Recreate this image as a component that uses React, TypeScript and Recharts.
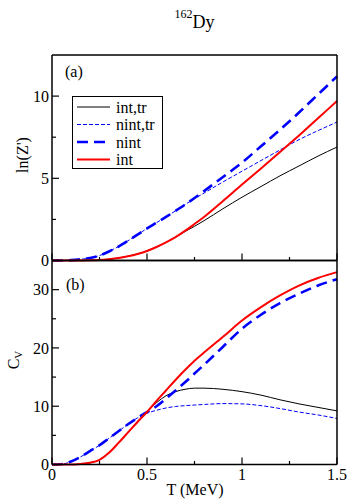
import React from 'react';
import { LineChart, Line, XAxis, YAxis } from 'recharts';

const temps = [0, 0.05, 0.1, 0.15, 0.2, 0.25, 0.3, 0.35, 0.4, 0.45, 0.5, 0.55, 0.6, 0.65, 0.7, 0.75, 0.8, 0.9, 1.0, 1.1, 1.2, 1.3, 1.4, 1.5];

// panel (a): ln(Z')
const lnZIntTr = [0, 0, 0, 0, 0.01, 0.03, 0.08, 0.15, 0.26, 0.4, 0.58, 0.82, 1.1, 1.42, 1.76, 2.08, 2.42, 3.15, 3.85, 4.5, 5.15, 5.75, 6.35, 6.9];
const lnZNintTr = [0, 0, 0.02, 0.07, 0.15, 0.3, 0.55, 0.85, 1.2, 1.57, 1.95, 2.3, 2.65, 3.02, 3.4, 3.76, 4.1, 4.78, 5.43, 6.08, 6.72, 7.35, 7.9, 8.42];
const lnZNint = [0, 0, 0.02, 0.07, 0.15, 0.3, 0.55, 0.85, 1.2, 1.57, 1.95, 2.3, 2.65, 3.02, 3.4, 3.8, 4.22, 5.08, 5.95, 6.95, 7.95, 9.0, 10.1, 11.2];
const lnZInt = [0, 0, 0, 0, 0.01, 0.03, 0.08, 0.15, 0.26, 0.4, 0.58, 0.82, 1.1, 1.42, 1.8, 2.22, 2.65, 3.62, 4.62, 5.6, 6.6, 7.6, 8.65, 9.7];

// panel (b): C_V
const cvIntTr = [0, 0, 0, 0.1, 0.3, 0.8, 2.0, 3.7, 5.5, 7.3, 9.0, 10.6, 11.8, 12.5, 12.9, 13.1, 13.1, 12.9, 12.5, 11.9, 11.1, 10.4, 9.8, 9.2];
const cvNintTr = [0, 0.05, 0.5, 1.3, 2.3, 3.3, 4.5, 5.7, 6.9, 8.0, 8.8, 9.3, 9.7, 9.95, 10.1, 10.2, 10.3, 10.45, 10.4, 10.1, 9.6, 9.0, 8.5, 7.9];
const cvNint = [0, 0.05, 0.5, 1.3, 2.3, 3.3, 4.5, 5.7, 6.9, 8.0, 9.0, 10.0, 11.3, 12.7, 14.1, 15.6, 17.1, 20.2, 23.3, 25.7, 27.7, 29.3, 30.7, 31.8];
const cvInt = [0, 0, 0, 0.1, 0.3, 0.8, 2.0, 3.7, 5.5, 7.3, 9.0, 10.9, 12.7, 14.5, 16.2, 17.8, 19.2, 21.9, 24.7, 27.0, 29.0, 30.7, 32.0, 33.0];

const seriesKeys = ['intTr', 'nintTr', 'nint', 'int'];
const seriesNames = ['int,tr', 'nint,tr', 'nint', 'int'];

const xTicks = [0, 0.25, 0.5, 0.75, 1, 1.25, 1.5];
const xTickLabels = ['0', '', '0.5', '', '1', '', '1.5'];
const yTicksA = [0, 2.5, 5, 7.5, 10];
const yTickLabelsA = ['0', '', '5', '', '10'];
const yTicksB = [0, 5, 10, 15, 20, 25, 30];
const yTickLabelsB = ['0', '', '10', '', '20', '', '30'];

const seriesStyle: Record<string, any> = {
  intTr: { stroke: '#000000', strokeWidth: 1 },
  nintTr: { stroke: '#0000ff', strokeWidth: 1, strokeDasharray: '4 2' },
  nint: { stroke: '#0000ff', strokeWidth: 2.6, strokeDasharray: '11 6' },
  int: { stroke: '#ff0000', strokeWidth: 2 },
};

const dataA = temps.map((T, i) => ({ T, intTr: lnZIntTr[i], nintTr: lnZNintTr[i], nint: lnZNint[i], int: lnZInt[i] }));
const dataB = temps.map((T, i) => ({ T, intTr: cvIntTr[i], nintTr: cvNintTr[i], nint: cvNint[i], int: cvInt[i] }));

const FONT = '"Liberation Serif", "Times New Roman", Times, serif';
const TXT = { fontFamily: FONT, fontSize: 16 } as React.CSSProperties;
const AX = { stroke: '#000', strokeWidth: 1.5 };

const leftTick = (ticks: number[], labels: string[]) => (props: any) => {
  const { x, y, payload } = props;
  const i = ticks.indexOf(payload.value);
  const lab = labels[i] || '';
  return (
    <g>
      <line x1={x} x2={x + (lab ? 7 : 4)} y1={y} y2={y} stroke="#000" strokeWidth={1.2} />
      {lab ? (
        <text x={x - 3} y={y} dy="0.35em" textAnchor="end" style={TXT} fill="#000">{lab}</text>
      ) : null}
    </g>
  );
};

const rightTick = (ticks: number[], labels: string[]) => (props: any) => {
  const { x, y, payload } = props;
  const i = ticks.indexOf(payload.value);
  const lab = labels[i] || '';
  return <line x1={x} x2={x - (lab ? 7 : 4)} y1={y} y2={y} stroke="#000" strokeWidth={1.2} />;
};

const bottomTick = (withLabels: boolean) => (props: any) => {
  const { x, y, payload } = props;
  const i = xTicks.indexOf(payload.value);
  const lab = xTickLabels[i] || '';
  return (
    <g>
      <line x1={x} x2={x} y1={y} y2={y - (lab ? 7 : 3.5)} stroke="#000" strokeWidth={1.2} />
      {withLabels && lab ? (
        <text x={x} y={y + 15.5} textAnchor="middle" style={TXT} fill="#000">{lab}</text>
      ) : null}
    </g>
  );
};

function Panel({ data, yMax, yTicks, yLabels, showX, width, height, margin, xHeight }: any) {
  return (
    <LineChart width={width} height={height} data={data} margin={margin}>
      <XAxis dataKey="T" type="number" domain={[0, 1.5]} ticks={xTicks} interval={0}
        height={xHeight} tickSize={0} tickMargin={0} tickLine={false} axisLine={AX}
        tick={bottomTick(showX)} />
      <XAxis xAxisId="top" orientation="top" type="number" domain={[0, 1.5]} height={1}
        tick={false} tickLine={false} axisLine={AX} />
      <YAxis type="number" domain={[0, yMax]} ticks={yTicks} interval={0} width={1}
        tickSize={0} tickMargin={0} tickLine={false} axisLine={AX} tick={leftTick(yTicks, yLabels)} />
      <YAxis yAxisId="right" orientation="right" type="number" domain={[0, yMax]} ticks={yTicks}
        interval={0} width={1} tickSize={0} tickMargin={0} tickLine={false} axisLine={AX}
        tick={rightTick(yTicks, yLabels)} />
      {seriesKeys.map((k) => (
        <Line key={k} dataKey={k} type="monotone" dot={false} activeDot={false}
          isAnimationActive={false} {...seriesStyle[k]} />
      ))}
    </LineChart>
  );
}

export default function App() {
  const legendRows = [107, 124.5, 142, 159.5];
  return (
    <div style={{ position: 'absolute', left: 0, top: 0, width: 351, height: 501, background: '#fff' }}>
      <div style={{ position: 'absolute', left: 0, top: 0 }}>
        <Panel data={dataA} yMax={12.5} yTicks={yTicksA} yLabels={yTickLabelsA} showX={false}
          width={351} height={272} margin={{ top: 54, right: 13, bottom: 10.5, left: 51 }} xHeight={1} />
      </div>
      <div style={{ position: 'absolute', left: 0, top: 255 }}>
        <Panel data={dataB} yMax={35} yTicks={yTicksB} yLabels={yTickLabelsB} showX={true}
          width={351} height={246} margin={{ top: 4.5, right: 13, bottom: 0, left: 51 }} xHeight={36.5} />
      </div>
      <svg width={351} height={501} style={{ position: 'absolute', left: 0, top: 0, pointerEvents: 'none' }}>
        <text x={194.5} y={28} textAnchor="middle" fill="#000" style={{ fontFamily: FONT }}>
          <tspan fontSize={12} dy={-10.5}>162</tspan>
          <tspan fontSize={18} dy={10.5}>Dy</tspan>
        </text>
        <text x={65} y={77} style={TXT} fill="#000">(a)</text>
        <text x={66} y={290} style={TXT} fill="#000">(b)</text>
        <text x={28} y={155} style={TXT} textAnchor="middle" fill="#000" transform="rotate(-90 28 155)">ln(Z')</text>
        <text x={19} y={360} style={TXT} textAnchor="middle" fill="#000" transform="rotate(-90 19 360)">
          C<tspan fontSize={11} dy={3}>V</tspan>
        </text>
        <text x={195} y={495} style={TXT} textAnchor="middle" fill="#000">T (MeV)</text>
        <rect x={72.5} y={96.5} width={90} height={72} fill="#fff" stroke="#000" strokeWidth={1} />
        {seriesKeys.map((k, i) => (
          <g key={k}>
            <line x1={77} x2={110} y1={legendRows[i]} y2={legendRows[i]} {...seriesStyle[k]} />
            <text x={116} y={legendRows[i] + 5.5} style={TXT} fill="#000">{seriesNames[i]}</text>
          </g>
        ))}
      </svg>
    </div>
  );
}
